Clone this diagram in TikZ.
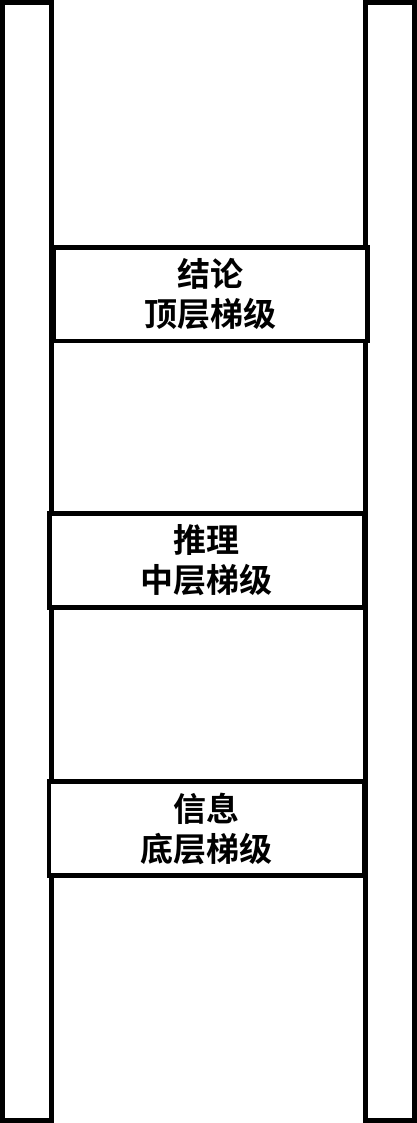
\documentclass[tikz,border=0pt]{standalone}
\usepackage{fontspec}
\newfontfamily\cjk{Noto Sans CJK SC}[BoldFont={Noto Sans CJK SC Bold}]
\begin{document}
\begin{tikzpicture}[x=1pt,y=-1pt,
  rail/.style={draw=black,line width=4.7pt,fill=none},
  rung/.style={draw=black,line width=4.7pt,fill=white,align=center,inner sep=0pt,
    font=\cjk\bfseries\fontsize{33}{40}\selectfont},
]
\useasboundingbox (0,0) rectangle (417,1123);
\node[rail,minimum width=48.8pt,minimum height=1118pt,inner sep=0pt] (leftrail) at (26.9,561.5) {};
\node[rail,minimum width=49.2pt,minimum height=1118pt,inner sep=0pt] (rightrail) at (390.1,561.5) {};
\node[rung,minimum width=314.2pt,minimum height=93.5pt] (top) at (210.4,294.25) {结论\\顶层梯级};
\node[rung,minimum width=314.7pt,minimum height=93.9pt] (mid) at (206.6,560.25) {推理\\中层梯级};
\node[rung,minimum width=315pt,minimum height=93.8pt] (bot) at (206.5,828.6) {信息\\底层梯级};
\end{tikzpicture}
\end{document}
